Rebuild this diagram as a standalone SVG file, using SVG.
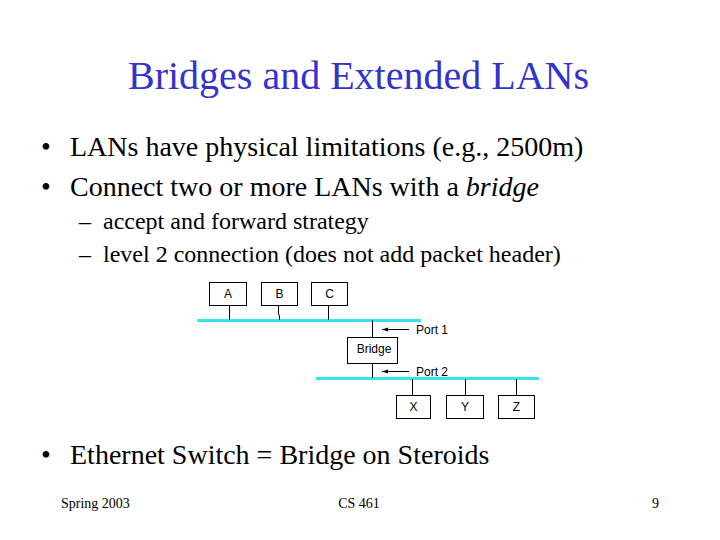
<svg xmlns="http://www.w3.org/2000/svg" width="720" height="540" viewBox="0 0 720 540">
<style>
.serif{font-family:"Liberation Serif","Times New Roman",serif;fill:#000}
.title{font-size:40px;fill:#3333cc}
.b1{font-size:28px}
.b2{font-size:24px}
.foot{font-size:14px}
.lbl{font-family:"Liberation Sans",Arial,sans-serif;font-size:12px;fill:#000}
.box{fill:#fff;stroke:#000;stroke-width:1}
.lan{stroke:#33e3f0;stroke-width:3;fill:none}
.wire{stroke:#000;stroke-width:1;fill:none}
</style>
<defs>
<marker id="ah" viewBox="0 0 6 6" refX="6" refY="3" markerWidth="6" markerHeight="6" orient="auto" markerUnits="userSpaceOnUse">
<path d="M0,1 L6,3 L0,5 Z" fill="#000"/>
</marker>
</defs>
<rect width="720" height="540" fill="#fff"/>
<text class="serif title" x="358.5" y="89" text-anchor="middle">Bridges and Extended LANs</text>
<g id="bullets">
<text class="serif b1" x="41" y="156">•</text>
<text class="serif b1" x="70" y="156">LANs have physical limitations (e.g., 2500m)</text>
<text class="serif b1" x="41" y="196">•</text>
<text class="serif b1" x="70" y="196">Connect two or more LANs with a <tspan font-style="italic">bridge</tspan></text>
<text class="serif b2" x="79" y="229">–</text>
<text class="serif b2" x="103" y="229">accept and forward strategy</text>
<text class="serif b2" x="79" y="262">–</text>
<text class="serif b2" x="103" y="262">level 2 connection (does not add packet header)</text>
<text class="serif b1" x="41" y="464">•</text>
<text class="serif b1" x="70" y="464">Ethernet Switch = Bridge on Steroids</text>
</g>
<g id="footer">
<text class="serif foot" x="61" y="508">Spring 2003</text>
<text class="serif foot" x="359" y="508" text-anchor="middle">CS 461</text>
<text class="serif foot" x="652" y="508">9</text>
</g>
<g id="connectors">
<line class="lan" x1="197" y1="320.5" x2="421" y2="320.5"/>
<line class="lan" x1="316" y1="378.5" x2="539" y2="378.5"/>
<line class="wire" x1="229.5" y1="305" x2="229.5" y2="320"/>
<polyline class="wire" points="278.5,305 278.5,314 279.5,316 279.5,320"/>
<line class="wire" x1="328.5" y1="305" x2="328.5" y2="320"/>
<line class="wire" x1="372.5" y1="320" x2="372.5" y2="338"/>
<line class="wire" x1="372.5" y1="363" x2="372.5" y2="378"/>
<line class="wire" x1="412.5" y1="379" x2="412.5" y2="395"/>
<line class="wire" x1="465.5" y1="379" x2="465.5" y2="395"/>
<line class="wire" x1="516.5" y1="379" x2="516.5" y2="395"/>
<line class="wire" x1="409" y1="329.5" x2="382" y2="329.5" marker-end="url(#ah)"/>
<line class="wire" x1="409" y1="371.5" x2="382" y2="371.5" marker-end="url(#ah)"/>
</g>
<g id="node-A"><rect class="box" x="209.5" y="282.5" width="37" height="23"/><text class="lbl" x="228" y="298" text-anchor="middle">A</text></g>
<g id="node-B"><rect class="box" x="261.5" y="282.5" width="36" height="23"/><text class="lbl" x="279.5" y="298" text-anchor="middle">B</text></g>
<g id="node-C"><rect class="box" x="311.5" y="282.5" width="36" height="23"/><text class="lbl" x="329.5" y="298" text-anchor="middle">C</text></g>
<g id="node-Bridge"><rect class="box" x="347.5" y="337.5" width="50" height="26"/><text class="lbl" x="374" y="353" text-anchor="middle">Bridge</text></g>
<g id="node-X"><rect class="box" x="396.5" y="395.5" width="34" height="23"/><text class="lbl" x="413.5" y="411" text-anchor="middle">X</text></g>
<g id="node-Y"><rect class="box" x="446.5" y="395.5" width="37" height="23"/><text class="lbl" x="465" y="411" text-anchor="middle">Y</text></g>
<g id="node-Z"><rect class="box" x="498.5" y="395.5" width="36" height="23"/><text class="lbl" x="516.5" y="411" text-anchor="middle">Z</text></g>
<g id="port-labels">
<text class="lbl" x="416" y="334">Port 1</text>
<text class="lbl" x="416" y="376">Port 2</text>
</g>
</svg>
